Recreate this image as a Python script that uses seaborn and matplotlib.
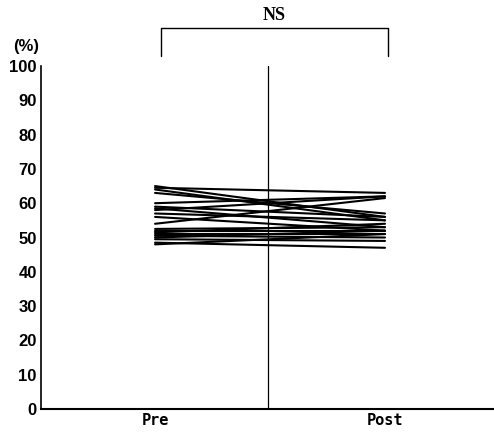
import matplotlib
matplotlib.use("Agg")
import matplotlib.pyplot as plt
import seaborn as sns
import pandas as pd

conditions = ["Pre", "Post"]
pre_values = [65, 64.5, 64, 63, 60, 59, 58.5, 58, 57, 56, 54, 52.5, 52, 51.5, 51, 50.5, 50, 49.5, 48.5, 48]
post_values = [56, 63, 55, 57, 62, 56, 53, 62, 55, 52, 61.5, 53, 52, 54, 51, 50, 52, 49, 47, 51]
y_ticks = [0, 10, 20, 30, 40, 50, 60, 70, 80, 90, 100]

rows = []
for i, (a, b) in enumerate(zip(pre_values, post_values)):
    rows.append({"subject": i, "x": 0, "value": a})
    rows.append({"subject": i, "x": 1, "value": b})
df = pd.DataFrame(rows)

sns.set_style("white")
plt.rcParams['font.family'] = ['Liberation Sans', 'DejaVu Sans']
plt.rcParams['text.color'] = 'black'
plt.rcParams['xtick.color'] = 'black'
plt.rcParams['ytick.color'] = 'black'

fig = plt.figure(figsize=(4.94, 4.38), dpi=100)
ax = fig.add_axes([41/494, 29/438, 1 - 41/494, (409-66)/438])

sns.lineplot(data=df, x="x", y="value", units="subject", estimator=None,
             color="black", linewidth=1.5, ax=ax, legend=False)

ax.axvline(0.49, color="black", linewidth=0.9)
ax.set_xlim(-0.496, 1.474)
ax.set_ylim(0, 100)
ax.set_yticks(y_ticks)
ax.set_yticklabels([str(t) for t in y_ticks], fontsize=12, fontweight="bold", color="black")
ax.set_xticks([0, 1])
ax.set_xticklabels(conditions, fontsize=11, fontweight="bold", family="DejaVu Sans Mono", color="black")
ax.tick_params(axis="both", length=0, pad=3)
ax.set_xlabel("")
ax.set_ylabel("")
for s in ["top", "right"]:
    ax.spines[s].set_visible(False)
ax.spines["left"].set_linewidth(1.2)
ax.spines["bottom"].set_linewidth(1.5)
ax.spines["left"].set_color("black")
ax.spines["bottom"].set_color("black")

# "(%)" label
fig.text(26/494, 1 - 47/438, "(%)", fontsize=12, fontweight="bold", ha="center", va="center", color="black")

# NS bracket
x0 = 161/494
x1 = 388/494
ytop = 1 - 28/438
ybot = 1 - 56/438
fig.add_artist(plt.Line2D([x0, x0, x1, x1], [ybot, ytop, ytop, ybot], color="black", linewidth=1.0))
fig.text((x0 + x1)/2, 1 - 16/438, "NS", fontsize=13, fontweight="bold", family="Liberation Serif",
         ha="center", va="center", color="black")

fig.savefig("out.png", dpi=100)
